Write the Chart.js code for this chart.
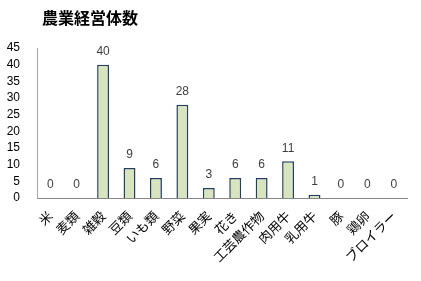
<!DOCTYPE html>
<html><head><meta charset="utf-8">
<script src="https://cdn.jsdelivr.net/npm/chart.js@4/dist/chart.umd.min.js"></script>
<style>html,body{margin:0;padding:0;background:#fff}#wrap{width:421px;height:281px}</style>
</head><body><div id="wrap"><canvas id="c" width="421" height="281"></canvas></div>
<script>
const chartTitle = "農業経営体数";
const categories = ["米","麦類","雑穀","豆類","いも類","野菜","果実","花き","工芸農作物","肉用牛","乳用牛","豚","鶏卵","ブロイラー"];
const values = [0,0,40,9,6,28,3,6,6,11,1,0,0,0];
const yTicks = [0,5,10,15,20,25,30,35,40,45];

const titlePlugin = {
  id: 'leftTitle',
  afterDraw(chart) {
    const ctx = chart.ctx;
    ctx.save();
    ctx.font = 'bold 16px "Noto Sans CJK JP"';
    ctx.fillStyle = '#000';
    ctx.textBaseline = 'middle';
    ctx.fillText(chartTitle, 42, 18);
    ctx.restore();
  }
};
const valueLabels = {
  id: 'valueLabels',
  afterDatasetsDraw(chart) {
    const ctx = chart.ctx;
    const meta = chart.getDatasetMeta(0);
    ctx.save();
    ctx.font = '12px "Liberation Sans", Arial, sans-serif';
    ctx.fillStyle = '#404040';
    ctx.textAlign = 'center';
    ctx.textBaseline = 'bottom';
    meta.data.forEach((bar, i) => {
      ctx.fillText(String(values[i]), bar.x, bar.y - 7);
    });
    ctx.restore();
  }
};

new Chart(document.getElementById('c'), {
  type: 'bar',
  data: {
    labels: categories,
    datasets: [{
      data: values,
      backgroundColor: '#d7e4bd',
      borderColor: '#243f60',
      borderWidth: 1.5,
      barPercentage: 0.45,
      categoryPercentage: 1.0
    }]
  },
  options: {
    responsive: false,
    animation: false,
    devicePixelRatio: 1,
    layout: { padding: { top: 48, right: 14, bottom: 0, left: 0 } },
    plugins: { legend: { display: false }, title: { display: false }, tooltip: { enabled: false } },
    scales: {
      x: {
        grid: { display: false, drawTicks: false },
        border: { display: true, color: '#868686' },
        ticks: {
          autoSkip: false, minRotation: 45, maxRotation: 45, padding: 10,
          color: '#000', font: { family: '"Noto Sans CJK JP"', size: 13 }
        },
        afterFit(scale) { scale.height = 83; }
      },
      y: {
        min: 0, max: 45,
        grid: { display: false, drawTicks: false },
        border: { display: true, color: '#a6a6a6' },
        afterBuildTicks(scale) { scale.ticks = yTicks.map(v => ({ value: v })); },
        ticks: {
          autoSkip: false,
          color: '#000', padding: 17,
          font: { family: '"Liberation Sans", Arial, sans-serif', size: 12 }
        },
        afterFit(scale) { scale.width = 37; }
      }
    }
  },
  plugins: [titlePlugin, valueLabels]
});
</script></body></html>
